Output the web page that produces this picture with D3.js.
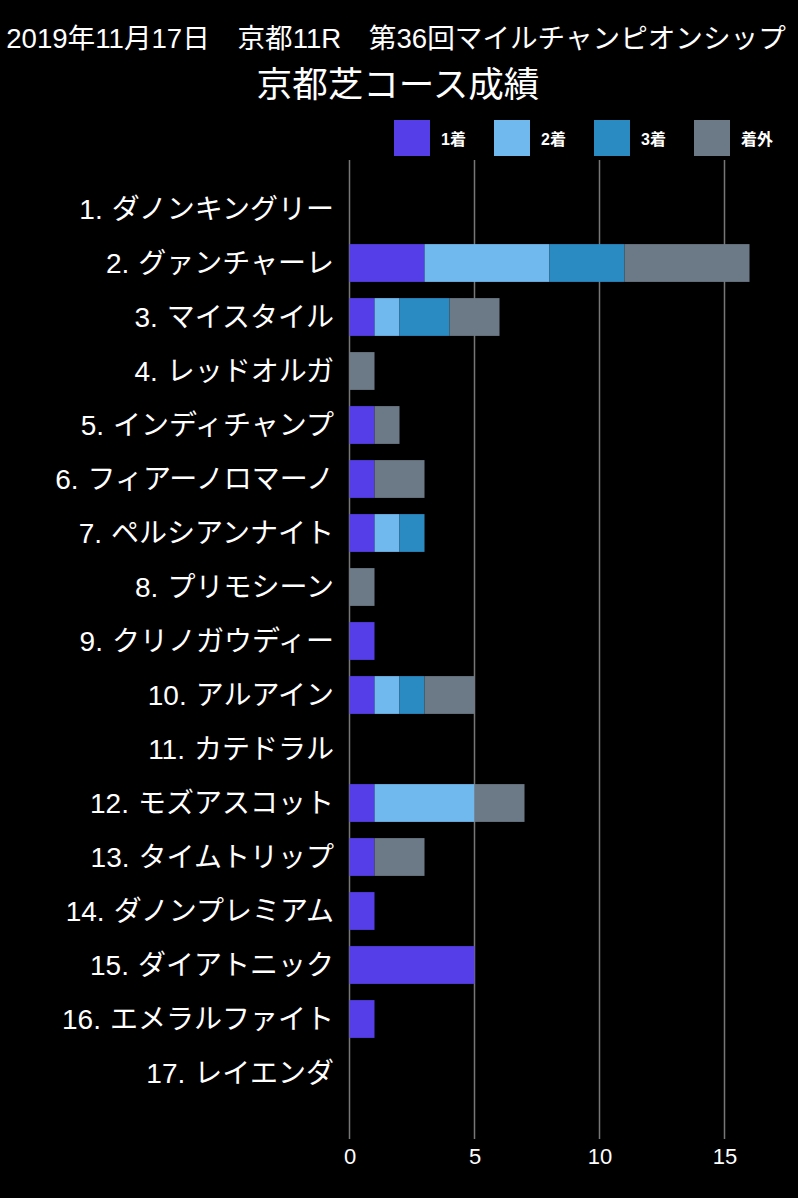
<!DOCTYPE html>
<html>
<head>
<meta charset="utf-8">
<script src="https://cdn.jsdelivr.net/npm/d3@7"></script>
<style>
  html, body { margin: 0; padding: 0; background: #000; }
  svg { display: block; }
  text { font-family: "Liberation Sans", "Noto Sans CJK JP", sans-serif; fill: #fff; }
</style>
</head>
<body>
<svg id="chart" width="798" height="1198"></svg>
<script>
// horse numbers and names in gate order
const numbers = ["1.", "2.", "3.", "4.", "5.", "6.", "7.", "8.", "9.", "10.", "11.", "12.",
    "13.", "14.", "15.", "16.", "17."];
const names = [
    "ダノンキングリー", "グァンチャーレ", "マイスタイル", "レッドオルガ",
    "インディチャンプ", "フィアーノロマーノ", "ペルシアンナイト", "プリモシーン",
    "クリノガウディー", "アルアイン", "カテドラル", "モズアスコット",
    "タイムトリップ", "ダノンプレミアム", "ダイアトニック", "エメラルファイト",
    "レイエンダ"
];

// finishing positions at Kyoto turf
const first  = [0, 3, 1, 0, 1, 1, 1, 0, 1, 1, 0, 1, 1, 1, 5, 1, 0];
const second = [0, 5, 1, 0, 0, 0, 1, 0, 0, 1, 0, 4, 0, 0, 0, 0, 0];
const third  = [0, 3, 2, 0, 0, 0, 1, 0, 0, 1, 0, 0, 0, 0, 0, 0, 0];
const other  = [0, 5, 2, 1, 1, 2, 0, 1, 0, 2, 0, 2, 2, 0, 0, 0, 0];

const seriesNames = ["1着", "2着", "3着", "着外"];
const seriesColors = ["#553de8", "#6fb9ee", "#2a8bc3", "#6c7a88"];
const xTicks = [0, 5, 10, 15];

const titleText = "2019年11月17日　京都11R　第36回マイルチャンピオンシップ";
const subtitleText = "京都芝コース成績";

// build rows for the stack
const horses = names.map((n, i) => numbers[i] + " " + n);
const rows = horses.map((h, i) => ({
    horse: h,
    "1着": first[i], "2着": second[i], "3着": third[i], "着外": other[i]
}));

const svg = d3.select("#chart");
const width = 798;

// fit a text element to a target width by changing its font size
function fitWidth(sel, target) {
    const w = sel.node().getComputedTextLength();
    const fs = parseFloat(sel.attr("font-size"));
    sel.attr("font-size", (fs * target / w).toFixed(2));
}

// titles
let t1 = svg.append("text")
    .attr("x", width / 2 - 3).attr("y", 48)
    .attr("text-anchor", "middle")
    .attr("font-size", 24)
    .text(titleText);
fitWidth(t1, 780);

let t2 = svg.append("text")
    .attr("x", width / 2 - 1).attr("y", 97)
    .attr("text-anchor", "middle")
    .attr("font-size", 34)
    .text(subtitleText);
fitWidth(t2, 283);

// scales
const xscale = d3.scaleLinear().domain([0, 16]).range([349.5, 749.5]);
const yscale = d3.scaleBand().domain(horses).range([182, 1100])
    .paddingInner(0.3).paddingOuter(0.15);
const colorScale = d3.scaleOrdinal().domain(seriesNames).range(seriesColors);

// vertical grid lines
svg.append("g")
    .selectAll("line")
    .data(xTicks)
    .enter()
    .append("line")
    .attr("x1", d => xscale(d)).attr("x2", d => xscale(d))
    .attr("y1", 160).attr("y2", 1139)
    .attr("stroke", "#777")
    .attr("stroke-width", 1.5);

// x axis labels
const xAxis = d3.axisBottom(xscale).tickValues(xTicks).tickSize(0).tickPadding(0);
const xg = svg.append("g")
    .attr("transform", "translate(0, 1144)")
    .call(xAxis);
xg.select(".domain").remove();
xg.selectAll("text")
    .attr("fill", "#fff")
    .attr("dy", "0")
    .attr("y", 20)
    .style("font-family", "'Liberation Sans', sans-serif")
    .style("font-size", "22px");

// stacked bars
const stack = d3.stack().keys(seriesNames);
const layers = stack(rows);

svg.append("g")
    .selectAll("g")
    .data(layers)
    .enter()
    .append("g")
    .attr("fill", d => colorScale(d.key))
    .selectAll("rect")
    .data(d => d)
    .enter()
    .append("rect")
    .attr("x", d => xscale(d[0]))
    .attr("y", d => yscale(d.data.horse))
    .attr("width", d => xscale(d[1]) - xscale(d[0]))
    .attr("height", yscale.bandwidth());

// horse labels: number, then name with a little extra gap
const labels = svg.append("g")
    .selectAll("text")
    .data(horses)
    .enter()
    .append("text")
    .attr("x", 334)
    .attr("y", d => yscale(d) + yscale.bandwidth() / 2)
    .attr("dy", "0.36em")
    .attr("text-anchor", "end")
    .attr("font-size", 28);

labels.append("tspan").text((d, i) => numbers[i]);
labels.append("tspan").attr("dx", 9).text((d, i) => names[i]);

// legend
const legend = svg.append("g")
    .selectAll("g")
    .data(seriesNames)
    .enter()
    .append("g")
    .attr("transform", (d, i) => `translate(${394 + i * 100}, 120)`);

legend.append("rect")
    .attr("width", 36).attr("height", 36)
    .attr("fill", d => colorScale(d));

legend.append("text")
    .attr("x", 47).attr("y", 25)
    .attr("font-size", 16)
    .attr("font-weight", "bold")
    .text(d => d);
</script>
</body>
</html>
